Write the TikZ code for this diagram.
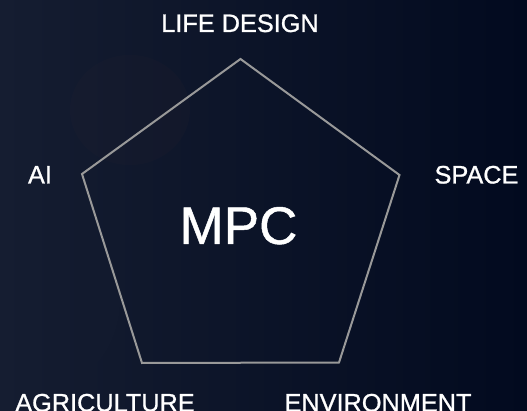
\documentclass[tikz,border=0pt]{standalone}
\usepackage{fontspec}
\setmainfont{Liberation Sans}
\newfontfamily\medfont{Liberation Sans}[FakeBold=0.9]
\begin{document}
\begin{tikzpicture}[x=1pt,y=-1pt,
  lbl/.style={text=white,inner sep=0pt,anchor=base,font=\medfont\fontsize{25.3}{28}\selectfont},
  big/.style={text=white,inner sep=0pt,anchor=base,font=\medfont\fontsize{53}{60}\selectfont},
  edge/.style={draw=black!40!white,line width=2pt,line join=miter}]
\definecolor{bgA}{HTML}{151D31}
\definecolor{bgB}{HTML}{020A1F}
\definecolor{glow}{HTML}{2A2430}
\useasboundingbox (0,0) rectangle (527,411);
\shade[left color=bgA,right color=bgB] (0,0) rectangle (527,411);
\fill[glow,opacity=0.15] (130,110) ellipse (60 and 55);
\fill[bgA,opacity=0.3] (40,300) ellipse (80 and 90);
\coordinate (v1) at (240.5,59);
\coordinate (v2) at (399.5,175);
\coordinate (v3) at (339,362.5);
\coordinate (v4) at (142,363);
\coordinate (v5) at (82,174);
\draw[edge] (v1) -- (v2) -- (v3) -- (v4) -- (v5) -- cycle;
\node[lbl] (life) at (240,32) {LIFE DESIGN};
\node[lbl] (ai) at (40,183.5) {AI};
\node[lbl] (space) at (476.5,183.5) {SPACE};
\node[lbl] (agri) at (105,411.5) {AGRICULTURE};
\node[lbl] (env) at (378,411.5) {ENVIRONMENT};
\node[big] (mpc) at (238.5,244) {MPC};
\end{tikzpicture}
\end{document}
